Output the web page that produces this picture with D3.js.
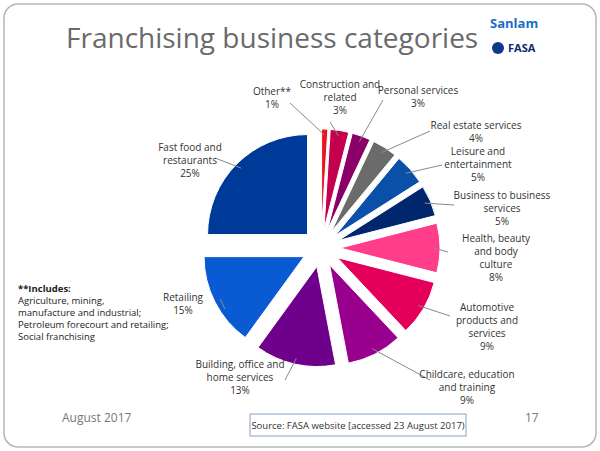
<!DOCTYPE html>
<html><head><meta charset="utf-8">
<script src="https://cdn.jsdelivr.net/npm/d3@7"></script>
<style>body{margin:0;background:#fff;} text{font-family:"Open Sans",sans-serif;}</style>
</head><body>
<script>
var categories = ["Other**","Construction and related","Personal services","Real estate services","Leisure and entertainment","Business to business services","Health, beauty and body culture","Automotive products and services","Childcare, education and training","Building, office and home services","Retailing","Fast food and restaurants"];
var values = [1,3,3,4,5,5,8,9,9,13,15,25];
var colors = ["#e8141e","#c4004e","#8a0068","#6b6b6b","#0a4fa8","#00266e","#ff3d8b","#e4005a","#9a008e","#6e008c","#0a5ad4","#003a98"];
// label lines (text) and anchor for each label
var labelLines = [["Other**","1%"],["Construction and","related","3%"],["Personal services","3%"],["Real estate services","4%"],["Leisure and","entertainment","5%"],["Business to business","services","5%"],["Health, beauty","and body","culture","8%"],["Automotive","products and","services","9%"],["Childcare, education","and training","9%"],["Building, office and","home services","13%"],["Retailing","15%"],["Fast food and","restaurants","25%"]];
var labelPos = [[272,95],[340,88],[418,94],[476,129],[478,155],[502,199],[496,242],[487,311],[467,378],[240,368],[183,301],[190,151]];
var lineEnd = [[290,103],[330,122],[383,100],[430,131],[442,165],[454,205],[448,252],[450,316],[430,380],[285,380],[225,309],[215,158]];

var W = 600, H = 451, cx = 321, cy = 248, R = 100, off = 19;
var svg = d3.select("body").append("svg").attr("width",W).attr("height",H);
svg.append("rect").attr("x",4).attr("y",4).attr("width",592).attr("height",443).attr("rx",14)
  .attr("fill","#fff").attr("stroke","#b5b5b5").attr("stroke-width",1.5);

svg.append("text").attr("x",66).attr("y",48).attr("font-size",28).attr("fill","#6a6a6a")
  .text("Franchising business categories");
svg.append("text").attr("x",490).attr("y",28).attr("font-size",13).attr("font-weight","bold").attr("fill","#1a6fc4").text("Sanlam");
svg.append("text").attr("x",508).attr("y",52).attr("font-size",11).attr("font-weight","bold").attr("fill","#0a2a6e").text("FASA");
svg.append("circle").attr("cx",498).attr("cy",48).attr("r",6).attr("fill","#0a3a8e");

var pie = d3.pie().sort(null).value(function(d){return d;});
var arc = d3.arc().innerRadius(0).outerRadius(R);
var arcs = pie(values);

arcs.forEach(function(a,i){
  var m = (a.startAngle+a.endAngle)/2;
  var dx = Math.sin(m)*off, dy = -Math.cos(m)*off;
  svg.append("path").attr("d",arc(a)).attr("transform","translate("+(cx+dx)+","+(cy+dy)+")")
    .attr("fill",colors[i]).attr("stroke","#fff").attr("stroke-width",1);
  var sx = cx+dx+Math.sin(m)*(R-6), sy = cy+dy-Math.cos(m)*(R-6);
  svg.append("line").attr("x1",sx).attr("y1",sy).attr("x2",lineEnd[i][0]).attr("y2",lineEnd[i][1])
    .attr("stroke","#8a8a8a").attr("stroke-width",1);
  var t = svg.append("text").attr("text-anchor","middle").attr("font-size",10).attr("fill","#333");
  labelLines[i].forEach(function(s,j){
    t.append("tspan").attr("x",labelPos[i][0]).attr("y",labelPos[i][1]+j*13).text(s);
  });
});

var inc = ["Agriculture, mining,","manufacture and industrial;","Petroleum forecourt and retailing;","Social franchising"];
svg.append("text").attr("x",18).attr("y",292).attr("font-size",9.5).attr("font-weight","bold").attr("fill","#222").text("**Includes:");
inc.forEach(function(s,j){
  svg.append("text").attr("x",18).attr("y",304+j*12).attr("font-size",9.5).attr("fill","#222").text(s);
});

svg.append("text").attr("x",62).attr("y",422).attr("font-size",12).attr("fill","#777").text("August 2017");
svg.append("text").attr("x",525).attr("y",422).attr("font-size",12).attr("fill","#777").text("17");
svg.append("rect").attr("x",250).attr("y",414).attr("width",216).attr("height",22).attr("fill","#fff").attr("stroke","#8aa0c8");
svg.append("text").attr("x",358).attr("y",429).attr("text-anchor","middle").attr("font-size",9.5).attr("fill","#333")
  .text("Source: FASA website [accessed 23 August 2017)");
</script>
</body></html>
